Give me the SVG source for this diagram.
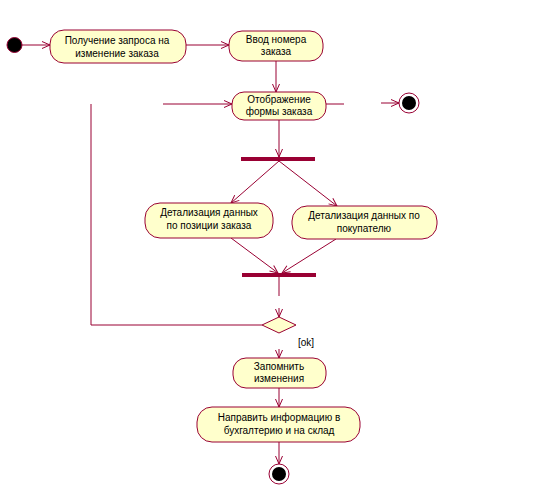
<svg xmlns="http://www.w3.org/2000/svg" width="558" height="502" viewBox="0 0 558 502">
<defs>
<marker id="arr" markerUnits="userSpaceOnUse" markerWidth="10" markerHeight="10" viewBox="0 0 10 10" refX="9" refY="5" orient="auto">
<path d="M1,1.5 L9,5 L1,8.5" fill="none" stroke="#990033" stroke-width="1"/>
</marker>
</defs>
<style>
.n{fill:#FFFFCC;stroke:#990033;stroke-width:1}
.t{font-family:"Liberation Sans",Arial,sans-serif;font-size:10px;fill:#000;text-anchor:middle}
.c{fill:none;stroke:#990033;stroke-width:1}
.a{marker-end:url(#arr)}
.bar{fill:#990033}
</style>
<rect width="558" height="502" fill="#fff"/>
<g id="connectors">
<path class="c a" d="M22,45 H50"/>
<path class="c a" d="M186,45 H229"/>
<path class="c a" d="M276,61 V92"/>
<path class="c a" d="M163,104 H232"/>
<path class="c" d="M326,104 H344"/>
<path class="c a" d="M381,103 H399"/>
<path class="c a" d="M279,120 V157"/>
<path class="c a" d="M279,161 L231,203"/>
<path class="c a" d="M279,161 L337,206"/>
<path class="c a" d="M231,238 L278,273"/>
<path class="c a" d="M336,239 L282,273"/>
<path class="c" d="M279,277 V296"/>
<path class="c a" d="M279,308 V317"/>
<path class="c" d="M262,325 H91 V104"/>
<path class="c a" d="M279,349 V358"/>
<path class="c a" d="M279,388 V407"/>
<path class="c a" d="M279,442 V464"/>
<text class="t" x="306" y="346">[ok]</text>
</g>
<g id="start"><circle cx="14.5" cy="45" r="7.5" fill="#000" stroke="#990033"/></g>
<g id="n1"><rect class="n" x="50" y="30" width="136" height="33" rx="14"/><text class="t" x="117" y="44">Получение запроса на</text><text class="t" x="117" y="57">изменение заказа</text></g>
<g id="n2"><rect class="n" x="229" y="31" width="94" height="30" rx="13"/><text class="t" x="276" y="43">Ввод номера</text><text class="t" x="276" y="55">заказа</text></g>
<g id="n3"><rect class="n" x="232" y="92" width="94" height="28" rx="12"/><text class="t" x="279" y="103">Отображение</text><text class="t" x="279" y="115">формы заказа</text></g>
<g id="end1"><circle cx="409" cy="103" r="10" fill="#fff" stroke="#990033"/><circle cx="409" cy="103" r="7" fill="#000"/></g>
<g id="fork"><rect class="bar" x="241" y="157" width="74" height="4"/></g>
<g id="n4"><rect class="n" x="145" y="203" width="128" height="35" rx="15"/><text class="t" x="209" y="216">Детализация данных</text><text class="t" x="209" y="229">по позиции заказа</text></g>
<g id="n5"><rect class="n" x="292" y="206" width="145" height="33" rx="15"/><text class="t" x="364" y="219">Детализация данных по</text><text class="t" x="364" y="232">покупателю</text></g>
<g id="join"><rect class="bar" x="242" y="273" width="74" height="4"/></g>
<g id="decision"><path class="n" d="M279,317 L296,325 L279,333 L262,325 Z"/></g>
<g id="n6"><rect class="n" x="233" y="358" width="93" height="30" rx="13"/><text class="t" x="279" y="370">Запомнить</text><text class="t" x="279" y="382">изменения</text></g>
<g id="n7"><rect class="n" x="197" y="407" width="163" height="35" rx="15"/><text class="t" x="279" y="421">Направить информацию в</text><text class="t" x="279" y="434">бухгалтерию и на склад</text></g>
<g id="end2"><circle cx="279" cy="474" r="10" fill="#fff" stroke="#990033"/><circle cx="279" cy="474" r="7" fill="#000"/></g>
</svg>
